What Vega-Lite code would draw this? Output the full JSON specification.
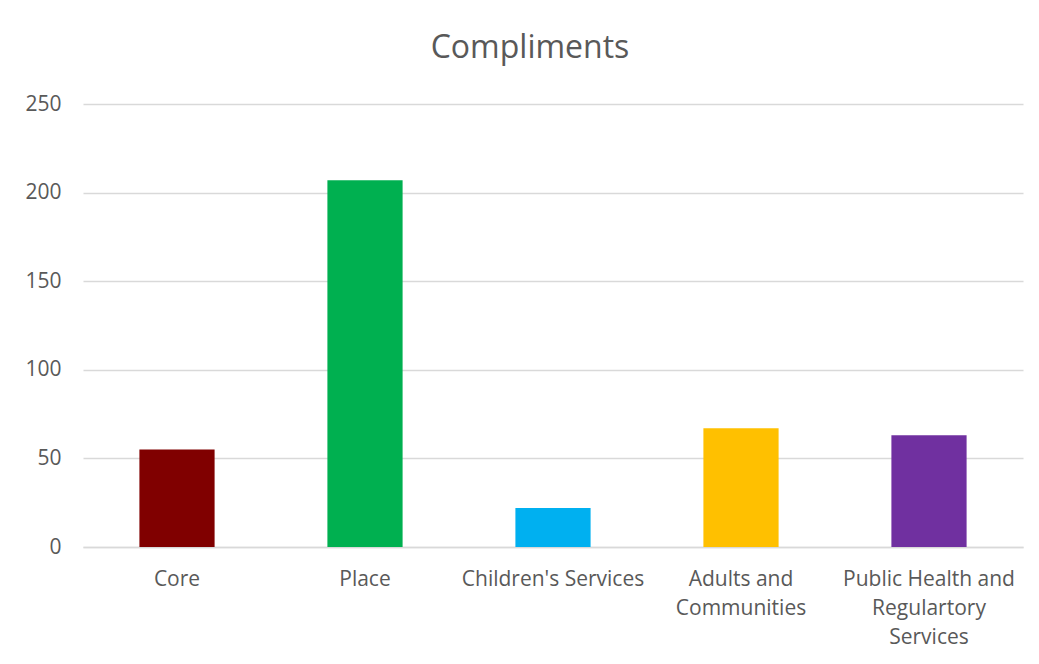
{
  "$schema": "https://vega.github.io/schema/vega-lite/v6.json",
  "autosize": {"type": "none"},
  "padding": {"left": 83, "top": 104, "right": 16, "bottom": 117},
  "width": 940,
  "height": 443,
  "background": "white",
  "title": {
    "text": "Compliments",
    "font": "Open Sans",
    "fontSize": 32,
    "fontWeight": "normal",
    "color": "#595959",
    "anchor": "middle",
    "dx": -23,
    "offset": 28
  },
  "data": {
    "values": [
      {"category": "Core", "value": 55},
      {"category": "Place", "value": 207},
      {"category": "Children's Services", "value": 22},
      {"category": "Adults and Communities", "value": 67},
      {"category": "Public Health and Regulartory Services", "value": 63}
    ]
  },
  "mark": {"type": "bar"},
  "encoding": {
    "x": {
      "field": "category",
      "type": "nominal",
      "sort": null,
      "scale": {"paddingInner": 0.6, "paddingOuter": 0.3},
      "axis": {
        "title": null,
        "labelAngle": 0,
        "labelFont": "Open Sans",
        "labelFontSize": 21,
        "labelColor": "#595959",
        "labelPadding": 21,
        "labelLineHeight": 29,
        "labelLimit": 300,
        "ticks": false,
        "domainColor": "#d9d9d9",
        "domainWidth": 1.5,
        "labelExpr": "datum.label == 'Adults and Communities' ? ['Adults and', 'Communities'] : datum.label == 'Public Health and Regulartory Services' ? ['Public Health and', 'Regulartory', 'Services'] : datum.label"
      }
    },
    "y": {
      "field": "value",
      "type": "quantitative",
      "scale": {"domain": [0, 250]},
      "axis": {
        "title": null,
        "values": [0, 50, 100, 150, 200, 250],
        "labelFont": "Open Sans",
        "labelFontSize": 21,
        "labelColor": "#595959",
        "labelPadding": 22,
        "ticks": false,
        "domain": false,
        "gridColor": "#d9d9d9",
        "gridWidth": 1.5
      }
    },
    "color": {
      "field": "category",
      "type": "nominal",
      "sort": null,
      "scale": {
        "domain": ["Core", "Place", "Children's Services", "Adults and Communities", "Public Health and Regulartory Services"],
        "range": ["#800000", "#00b050", "#00b0f0", "#ffc000", "#7030a0"]
      },
      "legend": null
    }
  },
  "config": {"view": {"stroke": null}}
}
